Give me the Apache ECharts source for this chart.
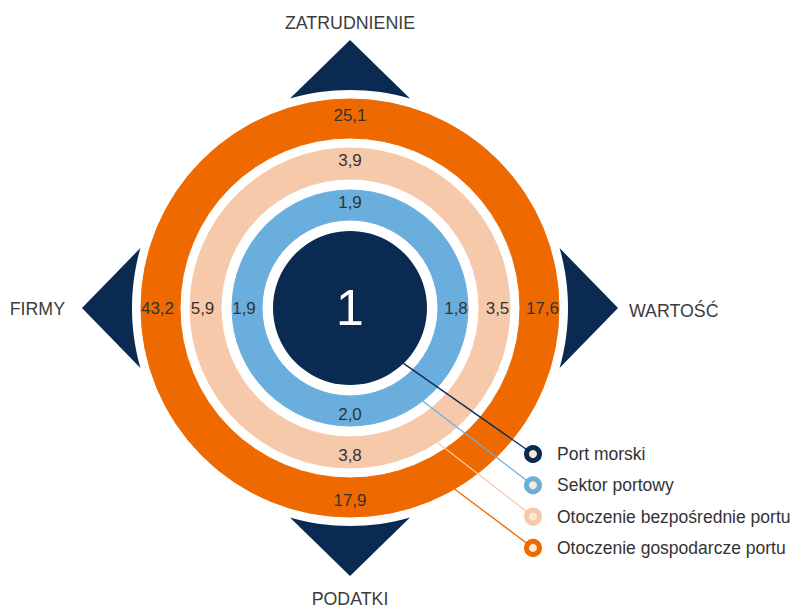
<!DOCTYPE html>
<html>
<head>
<meta charset="utf-8">
<script src="https://cdn.jsdelivr.net/npm/echarts@6/dist/echarts.min.js"></script>
<style>
  html, body { margin: 0; padding: 0; background: #fff; }
  #chart { width: 795px; height: 608px; }
</style>
</head>
<body>
<div id="chart"></div>
<script>
// kierunki zgodnie z ruchem wskazówek zegara, od góry
const kierunki = ['ZATRUDNIENIE', 'WARTOŚĆ', 'PODATKI', 'FIRMY']
const pierscienie = ['Port morski', 'Sektor portowy', 'Otoczenie bezpośrednie portu', 'Otoczenie gospodarcze portu']
const portMorski = [1]
const sektorPortowy = [1.9, 1.8, 2.0, 1.9]
const otoczenieBezposrednie = [3.9, 3.5, 3.8, 5.9]
const otoczenieGospodarcze = [25.1, 17.6, 17.9, 43.2]

const FONT = '"Liberation Sans", Arial, sans-serif'
const CX = 350
const CY = 308
const kolory = ['#0b2a52', '#6aaedd', '#f7c9ab', '#ee6a00']

const fmt = v => v.toFixed(1).replace('.', ',')

function ring (name, vals, r0, r1, color) {
  return {
    type: 'pie',
    name: name,
    center: [CX, CY],
    radius: [r0, r1],
    startAngle: 135,
    clockwise: true,
    silent: true,
    animation: false,
    // obramowanie w kolorze wypelnienia - bez szwow miedzy wycinkami
    itemStyle: { color: color, borderColor: color, borderWidth: 1 },
    label: {
      show: true,
      position: 'inside',
      rotate: 0,
      color: '#333',
      fontSize: 17,
      fontFamily: FONT,
      formatter: p => fmt(vals[p.dataIndex])
    },
    labelLine: { show: false },
    data: kierunki.map(k => ({ name: k, value: 1 }))
  }
}

const chart = echarts.init(document.getElementById('chart'), null, { renderer: 'svg' })

const graphic = []
// trojkaty kierunkow + podpisy
const dirs = [[0, -1], [1, 0], [0, 1], [-1, 0]]
kierunki.forEach((k, i) => {
  const a = Math.atan2(dirs[i][1], dirs[i][0])
  const pts = [[CX + 268 * Math.cos(a), CY + 268 * Math.sin(a)]]
  const off = Math.asin(60 / 218)
  for (let s = 0; s <= 16; s++) {
    const t = a + off - (2 * off * s / 16)
    pts.push([CX + 218 * Math.cos(t), CY + 218 * Math.sin(t)])
  }
  graphic.push({ type: 'polygon', z: 10, silent: true, shape: { points: pts }, style: { fill: '#0b2a52' } })
})
const pozycjeTytulow = [
  { x: CX, y: 23, align: 'center' },
  { x: 629, y: 311, align: 'left' },
  { x: CX, y: 599, align: 'center' },
  { x: 65, y: 309, align: 'right' }
]
kierunki.forEach((k, i) => {
  const p = pozycjeTytulow[i]
  graphic.push({
    type: 'text', z: 10, silent: true, x: p.x, y: p.y,
    style: { text: k, fill: '#3c3c3c', font: '17.8px ' + FONT, textAlign: p.align, textVerticalAlign: 'middle' }
  })
})

// legenda z liniami odniesienia
const startR = [77, 118, 160, 209]
const startKat = [46, 52, 57, 60]
pierscienie.forEach((n, i) => {
  const ly = 454 + i * 31.3
  const t = startKat[i] * Math.PI / 180
  graphic.push({
    type: 'line', z: 10, silent: true,
    shape: { x1: CX + startR[i] * Math.cos(t), y1: CY + startR[i] * Math.sin(t), x2: 533, y2: ly },
    style: { stroke: kolory[i], lineWidth: 1.3 }
  })
  graphic.push({
    type: 'circle', z: 11, silent: true,
    shape: { cx: 533, cy: ly, r: 6.5 },
    style: { fill: '#fbe9d4', stroke: kolory[i], lineWidth: 5 }
  })
  graphic.push({
    type: 'text', z: 11, silent: true, x: 557, y: ly,
    style: { text: n, fill: '#333', font: '17.5px ' + FONT, textVerticalAlign: 'middle' }
  })
})

chart.setOption({
  backgroundColor: '#fff',
  animation: false,
  series: [
    {
      type: 'pie',
      name: pierscienie[0],
      center: [CX, CY],
      radius: [0, 77],
      silent: true,
      itemStyle: { color: kolory[0] },
      label: {
        show: true,
        position: 'center',
        color: '#fff',
        fontSize: 50,
        fontFamily: FONT,
        formatter: () => String(portMorski[0])
      },
      labelLine: { show: false },
      data: [{ name: pierscienie[0], value: portMorski[0] }]
    },
    ring(pierscienie[1], sektorPortowy, 88, 118, kolory[1]),
    ring(pierscienie[2], otoczenieBezposrednie, 129, 160, kolory[2]),
    ring(pierscienie[3], otoczenieGospodarcze, 170, 209, kolory[3])
  ],
  graphic: graphic
})
</script>
</body>
</html>
